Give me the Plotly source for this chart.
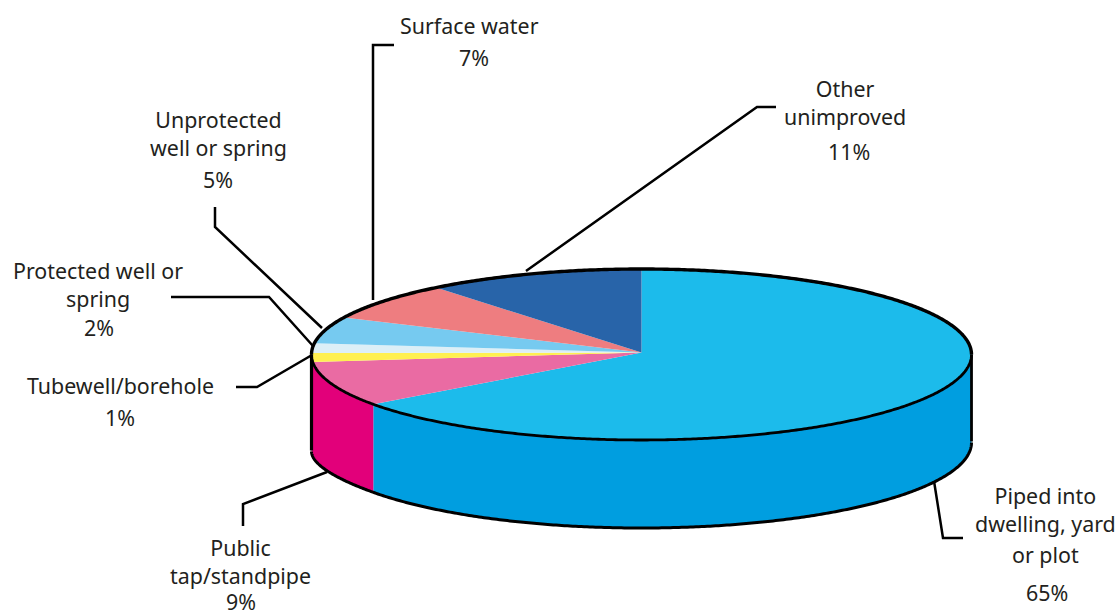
import math
import plotly.graph_objects as go

# ---- data ----
categories = ["Piped into dwelling, yard or plot", "Public tap/standpipe", "Tubewell/borehole",
              "Protected well or spring", "Unprotected well or spring", "Surface water", "Other unimproved"]
# printed percentages
values = [65, 9, 1, 2, 5, 7, 11]
# slice shares as measured from the drawn wedges (the artwork is not exactly to the printed figures)
drawn_shares = [65.1, 8.5, 1.7, 1.8, 5.0, 7.2, 10.7]
label_lines = [["Piped into<br>dwelling, yard", "or plot", "65%"],
               ["Public<br>tap/standpipe", "9%"],
               ["Tubewell/borehole", "1%"],
               ["Protected well or<br>spring", "2%"],
               ["Unprotected<br>well or spring", "5%"],
               ["Surface water", "7%"],
               ["Other<br>unimproved", "11%"]]
top_colors = ["#1CBBEB", "#EA6BA3", "#FFF050", "#DCEFF7", "#76CAF0", "#EE7D80", "#2864A9"]
side_colors = ["#009EE0", "#E2007A", "#E2007A", "#E2007A", "#E2007A", "#E2007A", "#E2007A"]

# ---- layout constants (pixels) ----
CX, CY, RX, RY, DEPTH = 641.5, 354.5, 330, 85.5, 88
FONT = "Noto Sans"
label_pos = [[(1045, 509), (1045, 554), (1047, 592)],
             [(240, 561), (241, 601)],
             [(120, 385), (120, 417)],
             [(98, 284), (99, 327)],
             [(218, 133), (218, 179)],
             [(469, 25), (474, 57)],
             [(845, 102), (849, 151)]]
leaders = [[(934, 481), (943, 538), (963, 538)],
           [(327, 472), (243, 504), (243, 526)],
           [(312, 355), (257, 387), (236, 387)],
           [(313, 346), (269, 297), (171, 297)],
           [(322, 328), (215, 227), (215, 207)],
           [(373, 300), (373, 45), (394, 45)],
           [(526, 271), (757, 107), (776, 107)]]


def pt(t_deg, dy=0.0):
    t = math.radians(t_deg)
    return CX + RX * math.sin(t), CY - RY * math.cos(t) + dy


def wall_depth(t_deg):
    # the artwork's lower rim sags a little towards the left corner
    return DEPTH + 9 * max(0.0, (t_deg - 234) / 36) ** 2


def arc(a, b, step=0.5):
    n = max(2, int(abs(b - a) / step) + 1)
    return [pt(a + (b - a) * i / (n - 1)) for i in range(n)]


def lower_arc(a, b, step=0.5):
    n = max(2, int(abs(b - a) / step) + 1)
    ts = [a + (b - a) * i / (n - 1) for i in range(n)]
    return [pt(t, wall_depth(t)) for t in ts]


def poly(points, color):
    return go.Scatter(x=[p[0] for p in points], y=[p[1] for p in points], mode="lines",
                      fill="toself", fillcolor=color, line=dict(width=0),
                      hoverinfo="skip", showlegend=False)


def stroke(points, width):
    return go.Scatter(x=[p[0] for p in points], y=[p[1] for p in points], mode="lines",
                      line=dict(color="#000000", width=width, simplify=False),
                      hoverinfo="skip", showlegend=False)


total = sum(drawn_shares)
angles = [0.0]
for v in drawn_shares:
    angles.append(angles[-1] + 360.0 * v / total)

fig = go.Figure()

# side walls: only the visible front half
for i in range(len(drawn_shares)):
    a, b = max(angles[i], 90), min(angles[i + 1], 270)
    if b > a:
        fig.add_trace(poly(arc(a, b) + lower_arc(b, a) + [pt(a)], side_colors[i]))

# top slices
for i in range(len(drawn_shares)):
    fig.add_trace(poly([(CX, CY - 2)] + arc(angles[i], angles[i + 1]) + [(CX, CY - 2)], top_colors[i]))

# outlines
fig.add_trace(stroke(arc(90, 270), 2.8))
fig.add_trace(stroke(arc(270, 450), 3.4))
fig.add_trace(stroke(lower_arc(90, 270), 3))
fig.add_trace(stroke([pt(90), pt(90, wall_depth(90) - 1)], 2.8))
fig.add_trace(stroke([pt(270), pt(270, wall_depth(270) - 1)], 3.2))

# leader lines
for pts in leaders:
    fig.add_trace(stroke(pts, 2.5))

annotations = []
for lines, positions in zip(label_lines, label_pos):
    for text, (x, y) in zip(lines, positions):
        annotations.append(dict(x=x, y=y, text=text, showarrow=False, xanchor="center", yanchor="middle",
                                font=dict(family=FONT, size=21.4, color="#231F20")))

fig.update_layout(width=1118, height=614, margin=dict(l=0, r=0, t=0, b=0),
                  paper_bgcolor="white", plot_bgcolor="white", showlegend=False,
                  xaxis=dict(range=[0, 1118], visible=False, fixedrange=True),
                  yaxis=dict(range=[614, 0], visible=False, fixedrange=True),
                  annotations=annotations)
fig.write_html("out.html", config={"displayModeBar": False},
               post_script="document.body.style.margin='0';document.body.style.overflow='hidden';")
